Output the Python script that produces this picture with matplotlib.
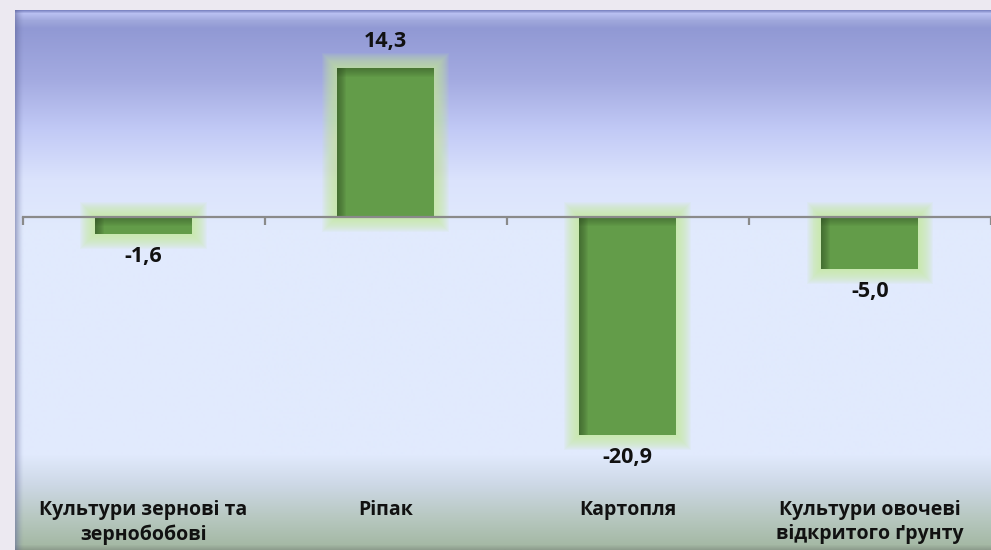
import numpy as np
import matplotlib
matplotlib.use("Agg")
import matplotlib.pyplot as plt
from matplotlib.colors import to_rgb
from matplotlib.transforms import blended_transform_factory

# ---- data ----
categories = ["Культури зернові та\nзернобобові", "Ріпак", "Картопля",
              "Культури овочеві\nвідкритого ґрунту"]
values = [-1.6, 14.3, -20.9, -5.0]
value_labels = ["-1,6", "14,3", "-20,9", "-5,0"]

W, H, DPI = 991, 550, 100
fig = plt.figure(figsize=(W / DPI, H / DPI), dpi=DPI, facecolor="#ECE9F1")

# ---- panel background (gradient) ----
PL, PT = 15, 10  # panel left / top in px
bg = fig.add_axes([PL / W, 0, (W - PL) / W, (H - PT) / H])
bg.set_axis_off()
stops = [(10, "#7E86C4"), (13, "#B9C0F2"), (20, "#A0A8DC"), (28, "#9199D4"),
         (80, "#A4ABE1"), (130, "#C2CAF6"), (180, "#DBE3FC"), (230, "#E1EAFD"),
         (455, "#E1EAFD"), (485, "#CDD8E6"), (520, "#B6C7BE"), (545, "#A5B9A5"),
         (550, "#8E9E8E")]
ys = np.arange(PT, H + 1)
sy = [s[0] for s in stops]
cols = np.array([to_rgb(s[1]) for s in stops])
grad = np.stack([np.interp(ys, sy, cols[:, k]) for k in range(3)], axis=-1)
img = np.repeat(grad[:, None, :], 2, axis=1)
bg.imshow(img, aspect="auto", extent=[0, 1, 0, 1], interpolation="bilinear")
# left bevel shading
xs = np.linspace(0, 1, 60)
nbev = 9 / (W - PL)
shade = np.zeros((1, 60, 4))
shade[..., :3] = to_rgb("#5E6498")
shade[0, :, 3] = 0.55 * (1 - xs) ** 1.5
bg.imshow(shade, aspect="auto", extent=[0, nbev, 0, 1], interpolation="bilinear")
bg.set_xlim(0, 1)
bg.set_ylim(0, 1)

# ---- data axes ----
AL = 22.5
ax = fig.add_axes([AL / W, 0, (W - AL) / W, (H - PT) / H])
ax.patch.set_alpha(0)
CAT_PX = 244.5
xmin = -0.5
xmax = xmin + (W - AL) / CAT_PX
ymin, ymax = -32.0, 19.9
ax.set_xlim(xmin, xmax)
ax.set_ylim(ymin, ymax)

px_x = (xmax - xmin) / (W - AL)
px_y = (ymax - ymin) / (H - PT)

x = np.arange(len(categories))
bw = 98 * px_x
bar_color = "#639C49"
glow_color = "#C6E89C"
shadow_color = "#2E4A22"

# glow
N = 15
for i in range(N, 0, -1):
    pad = i * 1.0
    for xi, v in zip(x, values):
        top = max(v, 0) + pad * px_y
        bot = min(v, 0) - pad * px_y
        ax.bar(xi, top - bot, bottom=bot, width=bw + 2 * pad * px_x,
               color=glow_color, alpha=0.085, linewidth=0, zorder=0.5)

# main bars
ax.bar(x, values, width=bw, color=bar_color, linewidth=0, zorder=1)

# inner shadows (left and top)
for k in range(1, 10):
    for xi, v in zip(x, values):
        top = max(v, 0)
        hgt = abs(v)
        ax.bar(xi - bw / 2, hgt, bottom=min(v, 0), width=k * px_x, align="edge",
               color=shadow_color, alpha=0.075, linewidth=0, zorder=1.1)
        hh = min(k * px_y, hgt)
        ax.bar(xi - bw / 2, -hh, bottom=top, width=bw, align="edge",
               color=shadow_color, alpha=0.06, linewidth=0, zorder=1.1)

# axis line and ticks
for s in ["top", "left", "right"]:
    ax.spines[s].set_visible(False)
ax.spines["bottom"].set_position(("data", 0))
ax.spines["bottom"].set_color("#8A8A8A")
ax.spines["bottom"].set_linewidth(1.6)
ax.spines["bottom"].set_zorder(3)
ax.set_xticks(np.arange(len(categories) + 1) - 0.5)
ax.set_xticklabels([])
ax.tick_params(axis="x", direction="out", length=5.5, width=1.6, color="#8A8A8A")
ax.set_yticks([])

FONT = ["Open Sans", "DejaVu Sans"]
# value labels
for xi, v, lab in zip(x, values, value_labels):
    off = 19.5 if v > 0 else -16.5
    ax.annotate(lab, (xi, v), xytext=(0, off), textcoords="offset points",
                ha="center", va="center", fontsize=15.5, fontweight="bold",
                family=FONT, color="#111111", zorder=5)

# category labels
tr = blended_transform_factory(ax.transData, ax.transAxes)
ytop = (H - 500) / (H - PT)
for xi, c in zip(x, categories):
    ax.text(xi, ytop, c, transform=tr, ha="center", va="top", fontsize=14,
            fontweight="bold", family=FONT, color="#111111",
            linespacing=1.3, zorder=5)

fig.savefig("out.png", dpi=DPI, facecolor=fig.get_facecolor())
